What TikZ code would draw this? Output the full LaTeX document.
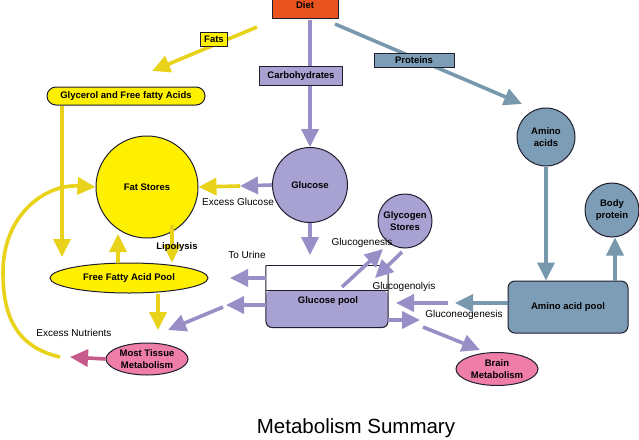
\documentclass[tikz,border=0pt]{standalone}
\usepackage{fontspec}
\setmainfont{Liberation Sans}
\usetikzlibrary{arrows.meta,shapes.geometric}
\definecolor{dietc}{HTML}{E8531E}
\definecolor{yel}{HTML}{FFF000}
\definecolor{yarr}{HTML}{E8D21A}
\definecolor{pur}{HTML}{A8A2D2}
\definecolor{parr}{HTML}{9A8EC6}
\definecolor{blu}{HTML}{7D9DB6}
\definecolor{barr}{HTML}{7898AE}
\definecolor{pinkc}{HTML}{EE7DA8}
\definecolor{pinka}{HTML}{C65A8A}
\definecolor{edge}{HTML}{1E1E2E}
\tikzset{
  arr/.style={line width=3.6pt,-{Triangle[length=18pt,width=17pt]}},
  ya/.style={arr,draw=yarr},
  pa/.style={arr,draw=parr},
  ba/.style={arr,draw=barr},
  ka/.style={arr,draw=pinka},
  box/.style={draw=edge,line width=1pt,inner sep=1pt,align=center,font=\fontsize{9.5}{12}\selectfont\bfseries},
  lbl/.style={inner sep=0pt},
}
\begin{document}
\begin{tikzpicture}[x=1pt,y=-1pt,font=\fontsize{10}{12}\selectfont]
\useasboundingbox[fill=white] (0,0) rectangle (639,439);
% coordinates
\coordinate (fatsS) at (257,27);
\coordinate (fatsT) at (152,71);
\coordinate (carbS) at (310,20);
\coordinate (protS) at (335,24);
\coordinate (protT) at (522,104);
\coordinate (excg) at (240,186);
\coordinate (urineS) at (266,278);
\coordinate (urineT) at (230,278);
\coordinate (lpS) at (266,305);
\coordinate (lpT) at (226,305);
\coordinate (diagS) at (223,307);
\coordinate (mtT) at (168,330);
\coordinate (rpS) at (388,320);
\coordinate (rpT) at (420,320);
\coordinate (brS) at (423,327);
\coordinate (brT) at (480,350);
\coordinate (gnB) at (455,303);
\coordinate (gnP) at (448,303);
\coordinate (gnT) at (396,303);
\coordinate (ggS) at (342,287);
\coordinate (ggT) at (383,249);
\coordinate (glS) at (402,252);
\coordinate (glT) at (375,278);
\coordinate (exnT) at (70,357);
\coordinate (curveS) at (60,357);

% nodes
\node[box,fill=dietc,minimum width=66,minimum height=26,anchor=south] (diet) at (305,19) {Diet};
\node[box,fill=blu,circle,minimum size=58] (amino) at (546,137) {Amino\\acids};
\node[box,fill=blu,circle,minimum size=54] (bodyp) at (612,210) {Body\\protein};
\node[box,fill=blu,rounded corners=7,minimum width=120,minimum height=52] (aapool) at (568,307) {Amino acid pool};
\node[box,fill=pur,circle,minimum size=75] (glucose) at (310,185) {Glucose};
\node[box,fill=pur,circle,minimum size=54] (glyco) at (405,221) {Glycogen\\Stores};
\node[box,fill=yel,circle,minimum size=102] (fat) at (147,187) {Fat Stores};
\node[box,fill=yel,ellipse,minimum width=158,minimum height=30] (ffa) at (129,278) {Free Fatty Acid Pool};
\node[box,fill=pinkc,ellipse,minimum width=82,minimum height=32] (mtm) at (147,359) {Most Tissue\\Metabolism};
\node[box,fill=pinkc,ellipse,minimum width=82,minimum height=33] (brain) at (497,369) {Brain\\Metabolism};
\node[box,fill=yel,rounded corners=9,minimum width=158,minimum height=18] (glyc) at (126,96) {Glycerol and Free fatty Acids};

% glucose pool
\node[minimum width=122,minimum height=62,inner sep=0pt] (gpool) at (327,296.5) {};
\fill[white] (gpool.north west) rectangle (388,290);
\fill[pur,rounded corners=6] (266,290) -- (266,327.5) -- (388,327.5) -- (388,290) -- cycle;
\draw[edge,line width=1pt,rounded corners=6] (gpool.north west) -- (266,327.5) -- (388,327.5) -- (gpool.north east);
\draw[edge,line width=1pt] (gpool.north west) -- (gpool.north east);
\draw[edge,line width=1pt] (266,290) -- (388,290);
\node[lbl,font=\fontsize{9.5}{12}\selectfont\bfseries] (gptext) at (328,301) {Glucose pool};

% connectors
\draw[ya] (fatsS) -- (fatsT);
\draw[pa] (carbS) -- (glucose.north);
\draw[ba] (protS) -- (protT);
\draw[pa] (glucose.west) -- (excg);
\draw[ya] (excg) -- (fat.east);
\draw[ya] (glyc.south -| 62,0) -- (62,257);
\draw[ya] (ffa.north -| 118,0) -- (118,234);
\draw[ya] (172,225) -- (ffa.north -| 172,0);
\draw[ya] (ffa.south -| 158,0) -- (mtT -| 158,0);
\draw[pa] (glucose.south) -- (310,255);
\draw[ba] (amino.south) -- (aapool.north -| amino.south);
\draw[ba] (aapool.north -| 615,0) -- (bodyp.south -| 615,0);
\draw[ba] (aapool.west |- gnB) -- (gnB);
\draw[pa] (gnP) -- (gnT);
\draw[pa] (urineS) -- (urineT);
\draw[pa] (lpS) -- (lpT);
\draw[pa] (diagS) -- (mtT);
\draw[pa] (rpS) -- (rpT);
\draw[pa] (brS) -- (brT);
\draw[pa] (ggS) -- (ggT);
\draw[pa] (glS) -- (glT);
\draw[ka] (mtm.west) -- (exnT);
\draw[ya] (curveS) .. controls (12,346) and (3,310) .. (3,272) .. controls (3,215) and (45,184) .. (fat.west);

% label boxes on connectors
\node[box,fill=yel,minimum width=27,minimum height=14] (fats) at (214,39) {Fats};
\node[box,fill=pur,minimum width=83,minimum height=19] (carb) at (301,76) {Carbohydrates};
\node[box,fill=blu,minimum width=80,minimum height=14] (prot) at (414,60) {Proteins};

% text labels
\node[lbl] (excgl) at (238,202) {Excess Glucose};
\node[lbl,font=\fontsize{9.5}{12}\selectfont\bfseries] (lipo) at (177,247) {Lipolysis};
\node[lbl] (urine) at (247,255) {To Urine};
\node[lbl] (exnut) at (74,333) {Excess Nutrients};
\node[lbl] (glgen) at (362,243) {Glucogenesis};
\node[lbl] (glysis) at (404,287) {Glucogenolyis};
\node[lbl] (gneo) at (464,315) {Gluconeogenesis};
\node[lbl,anchor=base,font=\fontsize{20.5}{24}\selectfont] (title) at (356,433) {Metabolism Summary};
\end{tikzpicture}
\end{document}
